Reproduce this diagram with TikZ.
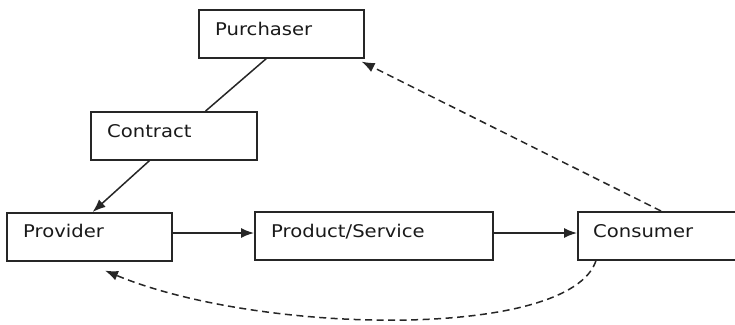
\documentclass[tikz,border=0pt]{standalone}
\usepackage{fontspec}
\setmainfont{DejaVu Sans}
\usetikzlibrary{arrows.meta,calc}
\begin{document}
\begin{tikzpicture}[x=1pt,y=-1pt,
  box/.style={draw=black!85,line width=1.6pt,rectangle,anchor=north west,
    minimum height=48pt,inner sep=0pt},
  lbl/.style={anchor=base west,inner sep=0pt,font=\fontsize{17.5}{20}\selectfont,text=black!90},
  conn/.style={draw=black!85,line width=1.5pt},
  tip/.style={-{Latex[length=13pt,width=10pt]}},
  dsh/.style={conn,dash pattern=on 7pt off 4.5pt}]
  \clip (0,0) rectangle (735,324);
  \useasboundingbox (0,0) rectangle (735,324);

  % boxes
  \node[box,minimum width=165pt] (pur) at (198,9) {};
  \node[box,minimum width=166pt] (con) at (90,111) {};
  \node[box,minimum width=165pt] (pro) at (6,212) {};
  \node[box,minimum width=238pt] (ps) at (254,211) {};
  \node[box,minimum width=175pt] (cns) at (577,211) {};

  % labels
  \node[lbl] (tpur) at ($(pur.north west)+(17,26)$) {\scalebox{1.12}[1]{Purchaser}};
  \node[lbl] (tcon) at ($(con.north west)+(17,26)$) {\scalebox{1.12}[1]{Contract}};
  \node[lbl] (tpro) at ($(pro.north west)+(17,25)$) {\scalebox{1.12}[1]{Provider}};
  \node[lbl] (tps) at ($(ps.north west)+(17,26)$) {\scalebox{1.12}[1]{Product/Service}};
  \node[lbl] (tcns) at ($(cns.north west)+(16,26)$) {\scalebox{1.12}[1]{Consumer}};

  % solid connectors
  \coordinate (a1) at ($(pur.south west)!0.41!(pur.south east)$);
  \coordinate (a2) at ($(con.north west)!0.69!(con.north east)$);
  \draw[conn] (a1) -- (a2);
  \coordinate (b1) at ($(con.south west)!0.355!(con.south east)$);
  \coordinate (b2) at ($(pro.north west)!0.52!(pro.north east)$);
  \draw[conn,tip] (b1) -- (b2);
  \draw[conn,tip] (pro.east |- 0,233) -- (ps.west |- 0,233);
  \draw[conn,tip] (ps.east |- 0,233) -- (cns.west |- 0,233);

  % dashed feedback connectors
  \coordinate (c1) at ($(cns.north west)+(84,0)$);
  \coordinate (c2) at ($(pur.south east)+(-3,3)$);
  \draw[dsh,tip] (c1) -- (c2);
  \coordinate (d1) at ($(cns.south west)+(19,0)$);
  \coordinate (d2) at ($(pro.south west)+(99,9)$);
  \draw[dsh,tip] (d1) .. controls (570,340) and (260,335) .. (d2);
\end{tikzpicture}
\end{document}
